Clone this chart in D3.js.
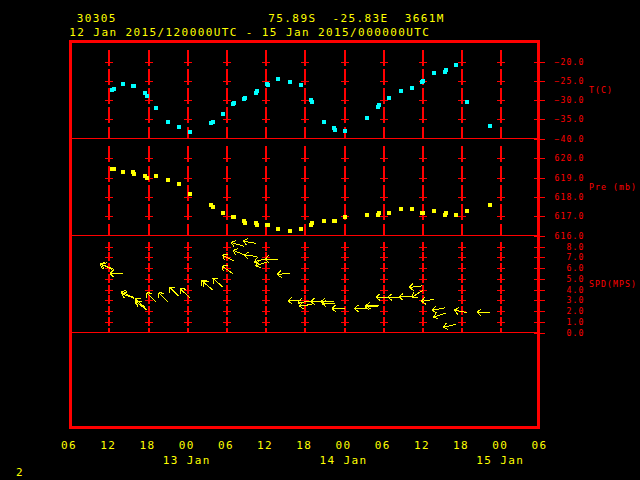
<!DOCTYPE html>
<html><head><meta charset="utf-8">
<script src="https://cdn.jsdelivr.net/npm/d3@7"></script>
<style>html,body{margin:0;padding:0;background:#000;}svg{display:block}text{white-space:pre}</style>
</head><body>
<script>
// ---- data (hours since 2015-01-12 00:00 UTC) ----
const obsHours = [12.52,12.83,14.20,15.78,15.93,17.62,17.88,19.26,21.09,22.78,24.46,27.72,28.03,29.51,31.04,31.24,32.73,32.92,34.61,34.76,36.25,36.45,37.93,39.81,41.50,42.98,43.18,44.97,46.50,46.70,48.19,51.65,53.24,53.44,54.97,56.80,58.49,60.02,60.17,61.86,63.54,63.69,65.22,66.91,70.43];
const tempC = [-27.4,-27.1,-25.9,-26.4,-26.4,-28.2,-28.9,-32.1,-35.7,-37.0,-38.3,-36.0,-35.7,-33.65,-31.0,-30.7,-29.8,-29.5,-28.1,-27.7,-25.9,-26.1,-24.6,-25.4,-26.1,-30.0,-30.5,-35.7,-37.3,-37.8,-38.1,-34.7,-31.8,-31.2,-29.5,-27.7,-26.9,-25.4,-25.1,-23.0,-22.8,-22.3,-21.0,-30.5,-36.8];
const presMb = [619.44,619.44,619.27,619.27,619.18,619.06,618.97,619.06,618.86,618.65,618.13,617.56,617.46,617.15,616.94,616.94,616.74,616.63,616.63,616.53,616.53,616.53,616.32,616.22,616.32,616.53,616.63,616.74,616.74,616.74,616.94,617.05,617.05,617.15,617.15,617.36,617.36,617.15,617.15,617.25,617.05,617.15,617.05,617.25,617.56];
const windSpd = [5.9,5.9,5.5,3.3,3.2,2.35,2.1,2.85,2.85,3.4,3.25,4.1,3.95,4.25,5.5,6.65,8.05,7.2,8.3,7.1,6.9,6.6,6.85,5.55,3.0,2.9,2.6,2.9,2.9,2.7,2.25,2.25,2.45,2.55,3.3,3.3,3.35,4.35,3.95,3.1,2.3,1.8,0.75,1.85,1.85];
const windDir = [115,112,90,113,110,130,128,135,135,134,133,130,130,131,125,118,106,113,101,95,75,72,90,83,88,85,85,90,88,90,90,90,88,88,90,90,88,83,57,80,79,73,78,101,93];
const tempTicks = [-20,-25,-30,-35,-40];
const presTicks = [620,619,618,617,616];
const spdTicks = [8,7,6,5,4,3,2,1,0];
const stationId = "30305";
const stationLoc = "75.89S  -25.83E  3661M";
const timeRange = "12 Jan 2015/120000UTC - 15 Jan 2015/000000UTC";
const panelTitles = ["T(C)","Pre (mb)","SPD(MPS)"];
const pageNo = "2";

const RED="#ff0000", YEL="#ffff00", CYAN="#00ffff";
const svg = d3.select("body").append("svg").attr("width",640).attr("height",480)
  .style("background","#000");

const t0 = Date.UTC(2015,0,12,0);
const toDate = h => new Date(t0 + h*3600e3);
const x = d3.scaleUtc().domain([toDate(6), toDate(78)]).range([69.1, 539.5]);
const yT = d3.scaleLinear().domain([-40,-20]).range([138.5,61.5]);
const yP = d3.scaleLinear().domain([616,620]).range([235.5,158.3]);
const yW = d3.scaleLinear().domain([0,8]).range([332.5,246.7]);

const fontBig = {size:11, ls:1.4};
const fontSm = {size:8.2, ls:1.06};
function txt(s, px, py, f, col, anchor){
  return svg.append("text").attr("x",px).attr("y",py).text(s)
    .attr("xml:space","preserve")
    .attr("font-family","'DejaVu Sans Mono', monospace").attr("font-size",f.size)
    .attr("letter-spacing",f.ls).attr("fill",col).attr("text-anchor",anchor||"start");
}

// grid
const panels = [
  {s:yT, ticks:tempTicks, top:41, bottom:138.5, above:12},
  {s:yP, ticks:presTicks, top:138.5, bottom:235.5, above:12},
  {s:yW, ticks:spdTicks, top:235.5, bottom:332.5, above:5}
];
const allTicks = x.ticks(d3.utcHour.every(6));
const inner = allTicks.slice(1, allTicks.length-1);
const g = svg.append("g").attr("stroke",RED).attr("stroke-width",1).attr("shape-rendering","crispEdges");
panels.forEach(p=>{
  const lastV = p.ticks[p.ticks.length-1];
  inner.forEach(d=>{
    const gx = Math.round(x(d))+1;
    p.ticks.forEach(v=>{
      const yy = p.s(v);
      g.append("line").attr("x1",gx).attr("x2",gx).attr("stroke-width",2)
        .attr("y1",Math.max(p.top,yy-p.above)).attr("y2",Math.min(p.bottom,yy+4));
      if(v!==lastV){
        g.append("line").attr("x1",gx-4).attr("x2",gx+4).attr("y1",Math.round(yy)+0.5).attr("y2",Math.round(yy)+0.5);
      }
    });
  });
  // right axis ticks + labels
  p.ticks.forEach(v=>{
    const yy = Math.round(p.s(v))+0.5;
    g.append("line").attr("x1",534).attr("x2",545).attr("y1",yy).attr("y2",yy);
    txt(d3.format(".1f")(v), 584.4, p.s(v)+3, fontSm, RED, "end");
  });
});
// separators
[138.5,235.5,332.5].forEach(yy=>{
  g.append("line").attr("x1",70).attr("x2",538).attr("y1",yy).attr("y2",yy);
});
// frame
svg.append("rect").attr("x",70.5).attr("y",41).attr("width",467.8).attr("height",386)
  .attr("fill","none").attr("stroke",RED).attr("stroke-width",3).attr("shape-rendering","crispEdges");

// panel titles
panelTitles.forEach((t,i)=>{
  const p = panels[i];
  txt(t, 589, (p.top+p.bottom)/2+3, fontSm, RED);
});

// temperature squares
svg.append("g").selectAll("rect").data(obsHours).join("rect")
  .attr("x",(h)=>x(toDate(h))-2).attr("y",(h,i)=>yT(tempC[i])-2)
  .attr("width",4).attr("height",4).attr("fill",CYAN).attr("shape-rendering","crispEdges");
// pressure squares
svg.append("g").selectAll("rect").data(obsHours).join("rect")
  .attr("x",(h)=>x(toDate(h))-2).attr("y",(h,i)=>yP(presMb[i])-2)
  .attr("width",4).attr("height",4).attr("fill",YEL).attr("shape-rendering","crispEdges");

// wind arrows
const L=13, HB=5.5, HA=40*Math.PI/180;
const wg = svg.append("g").attr("stroke",YEL).attr("stroke-width",1).attr("fill","none")
  .attr("shape-rendering","crispEdges");
obsHours.forEach((h,i)=>{
  const x0 = x(toDate(h)), y0 = yW(windSpd[i]);
  const a = (windDir[i]+180)*Math.PI/180;
  const ux = Math.sin(a), uy = -Math.cos(a);
  const x1 = x0+L*ux, y1 = y0+L*uy;
  const bx=-ux, by=-uy;
  const path = d3.path();
  path.moveTo(x0,y0); path.lineTo(x1,y1);
  [HA,-HA].forEach(th=>{
    const rx = bx*Math.cos(th)-by*Math.sin(th), ry = bx*Math.sin(th)+by*Math.cos(th);
    path.moveTo(x1,y1); path.lineTo(x1+HB*rx, y1+HB*ry);
  });
  wg.append("path").attr("d",path.toString());
});

// x labels
const fmtH = d3.utcFormat("%H"), fmtD = d3.utcFormat("%d %b");
allTicks.forEach(d=>{
  txt(fmtH(d), x(d), 449, fontBig, YEL, "middle");
  if(d.getUTCHours()===0) txt(fmtD(d), x(d), 463.5, fontBig, YEL, "middle");
});

// header
txt(stationId, 76.7, 22.3, fontBig, YEL);
txt(stationLoc, 268.3, 22.3, fontBig, YEL);
txt(timeRange, 69.3, 35.7, fontBig, YEL);
txt(pageNo, 16, 476, fontBig, YEL);
</script>
</body></html>
